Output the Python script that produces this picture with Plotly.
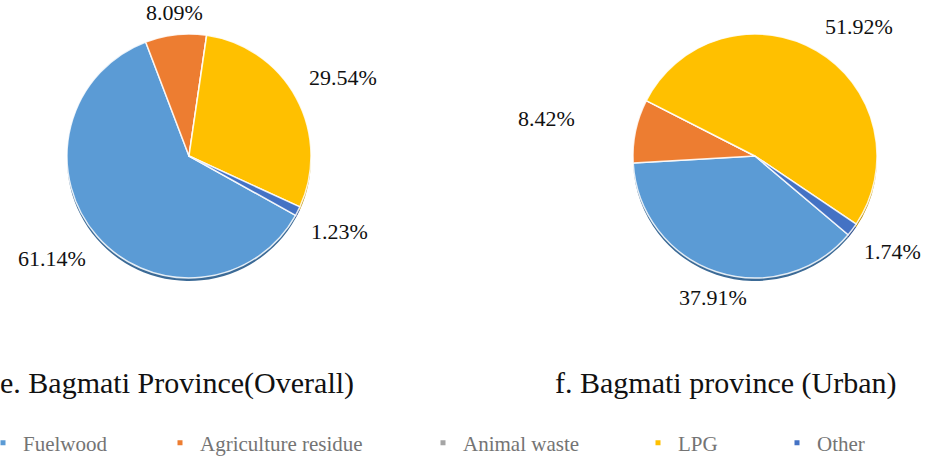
import math
import plotly.graph_objects as go

# Household cooking fuel shares (%), Bagmati Province
categories = ["Fuelwood", "Agriculture residue", "Animal waste", "LPG", "Other"]
overall_share = [61.14, 8.09, 0.0, 29.54, 1.23]
urban_share = [37.91, 8.42, 0.0, 51.92, 1.74]
panel_titles = ["e. Bagmati Province(Overall)", "f. Bagmati province (Urban)"]

# Styling
colors = ["#5B9BD5", "#ED7D31", "#A5A5A5", "#FFC000", "#4472C4"]
rim_colors = ["#3B6A96", "#B0561C", "#7A7A7A", "#BC8E00", "#2E4F8C"]
W, H = 930, 457
SERIF = "Liberation Serif"

panels = [
    dict(values=overall_share, title=panel_titles[0], cx=189, cy=156, r=122,
         rotation=119.1, pads=[12, 8, 12, 12, 12], title_x=177, title_y=383),
    dict(values=urban_share, title=panel_titles[1], cx=755, cy=156, r=122,
         rotation=130.2, pads=[12, 60, 12, 12, 12], title_x=726, title_y=383),
]

legend_text_x = [23, 200, 463, 678, 817]
legend_y = 443


def domain(cx, cy, r, dy=0):
    return dict(x=[(cx - r) / W, (cx + r) / W],
                y=[1 - (cy + dy + r) / H, 1 - (cy + dy - r) / H])


fig = go.Figure()
annotations = []

for p in panels:
    # darker rim drawn slightly below for a bevelled edge
    fig.add_trace(go.Pie(
        labels=categories, values=p["values"], sort=False, direction="clockwise",
        rotation=p["rotation"], domain=domain(p["cx"], p["cy"], p["r"], dy=3),
        marker=dict(colors=rim_colors, line=dict(width=0)),
        textinfo="none", hoverinfo="skip", showlegend=False,
    ))
    fig.add_trace(go.Pie(
        labels=categories, values=p["values"], sort=False, direction="clockwise",
        rotation=p["rotation"], domain=domain(p["cx"], p["cy"], p["r"]),
        marker=dict(colors=colors, line=dict(color="rgba(255,255,255,0.85)", width=1.5)),
        textinfo="none", showlegend=False,
    ))

    # percentage labels placed just outside each slice's mid-angle
    total = sum(p["values"])
    start = p["rotation"]
    for v, pad in zip(p["values"], p["pads"]):
        span = v / total * 360.0
        mid = math.radians(start + span / 2)
        start += span
        if v <= 0:
            continue
        ux, uy = math.sin(mid), -math.cos(mid)
        dist = p["r"] + pad
        px, py = p["cx"] + ux * dist, p["cy"] + uy * dist
        xa = "left" if ux > 0.35 else ("right" if ux < -0.35 else "center")
        ya = "top" if uy > 0.35 else ("bottom" if uy < -0.35 else "middle")
        annotations.append(dict(
            x=px / W, y=1 - py / H, xref="paper", yref="paper",
            xanchor=xa, yanchor=ya, showarrow=False, text=f"{v:.2f}%",
            font=dict(family=SERIF, size=22, color="#111111"),
        ))

    annotations.append(dict(
        x=p["title_x"] / W, y=1 - p["title_y"] / H, xref="paper", yref="paper",
        xanchor="center", yanchor="middle", showarrow=False, text=p["title"],
        font=dict(family=SERIF, size=30, color="#111111"),
    ))

# shared legend: one entry per fuel, each in its own legend box
legend_layout = {}
for i, (name, col, tx) in enumerate(zip(categories, colors, legend_text_x)):
    key = "legend" if i == 0 else f"legend{i + 1}"
    fig.add_trace(go.Scatter(
        x=[None], y=[None], mode="markers", name=name,
        marker=dict(symbol="square", size=5, color=col),
        legend=key, showlegend=True, hoverinfo="skip",
    ))
    legend_layout[key] = dict(
        x=(tx - 40) / W, y=1 - legend_y / H,
        xanchor="left", yanchor="middle",
        orientation="h", bgcolor="rgba(0,0,0,0)", itemwidth=30,
        font=dict(family=SERIF, size=21, color="#747474"),
    )

fig.update_layout(
    width=W, height=H, margin=dict(l=0, r=0, t=0, b=0, autoexpand=False),
    paper_bgcolor="white", plot_bgcolor="white",
    xaxis=dict(visible=False), yaxis=dict(visible=False),
    annotations=annotations, **legend_layout,
)

fig.write_html("out.html")
